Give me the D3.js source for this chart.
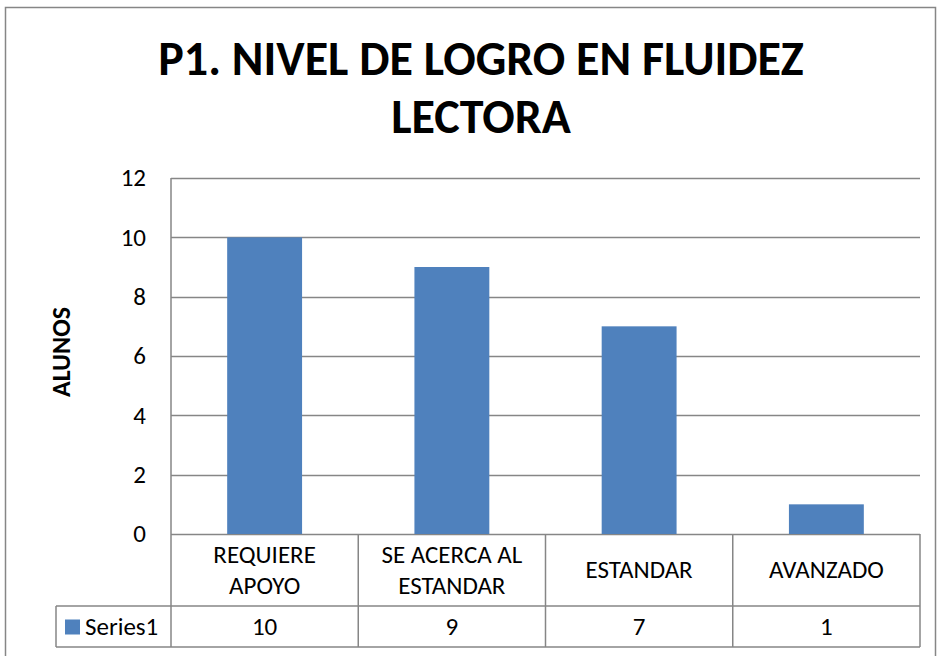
<!DOCTYPE html>
<html>
<head>
<meta charset="utf-8">
<script src="https://cdn.jsdelivr.net/npm/d3@7"></script>
<style>
  body { margin: 0; background: #fff; }
  text { font-family: Carlito, "Noto Sans", sans-serif; }
</style>
</head>
<body>
<div id="wrapper"></div>
<script>
// Data
const categories = [["REQUIERE", "APOYO"], ["SE ACERCA AL", "ESTANDAR"], ["ESTANDAR"], ["AVANZADO"]];
const values = [10, 9, 7, 1];
const seriesName = "Series1";
const yTicks = [0, 2, 4, 6, 8, 10, 12];
const titleLines = ["P1. NIVEL DE LOGRO EN FLUIDEZ", "LECTORA"];
const yLabel = "ALUNOS";

const WIDTH = 937;
const HEIGHT = 656;
const BAR_COLOR = "#4F81BD";
const LINE_COLOR = "#868686";
const FONT_SIZE = 25;

const plot = { left: 171, right: 920, top: 178, bottom: 534 };
const table = { left: 56, catBottom: 606, rowBottom: 647 };

const svg = d3.select("#wrapper")
  .append("svg")
  .attr("width", WIDTH)
  .attr("height", HEIGHT);

// Chart frame
svg.append("rect")
  .attr("x", 5.5).attr("y", 7.5)
  .attr("width", 930).attr("height", 660)
  .attr("fill", "#fff")
  .attr("stroke", LINE_COLOR)
  .attr("stroke-width", 1.5);

// Title
svg.append("text")
  .attr("text-anchor", "middle")
  .attr("font-weight", "bold")
  .attr("font-size", 48)
  .attr("fill", "#000")
  .selectAll("tspan")
  .data(titleLines)
  .join("tspan")
  .attr("x", 481)
  .attr("y", (d, i) => 75 + i * 58)
  .text(d => d);

// Scales
const xScale = d3.scaleBand()
  .domain(d3.range(values.length))
  .range([plot.left, plot.right])
  .paddingInner(0.6)
  .paddingOuter(0.3);

const xBand = d3.scaleBand()
  .domain(d3.range(values.length))
  .range([plot.left, plot.right]);

const yScale = d3.scaleLinear()
  .domain([0, 12])
  .range([plot.bottom, plot.top]);

// Gridlines
svg.append("g")
  .selectAll("line")
  .data(yTicks)
  .join("line")
  .attr("x1", plot.left).attr("x2", plot.right)
  .attr("y1", d => Math.round(yScale(d)) + 0.5)
  .attr("y2", d => Math.round(yScale(d)) + 0.5)
  .attr("stroke", LINE_COLOR)
  .attr("stroke-width", 1.5);

// Y axis line
svg.append("line")
  .attr("x1", plot.left).attr("x2", plot.left)
  .attr("y1", plot.top).attr("y2", plot.bottom)
  .attr("stroke", LINE_COLOR)
  .attr("stroke-width", 1.5);

// Tick labels
svg.append("g")
  .selectAll("text")
  .data(yTicks)
  .join("text")
  .attr("x", 146)
  .attr("y", d => yScale(d))
  .attr("dy", "0.33em")
  .attr("text-anchor", "end")
  .attr("font-size", 25)
  .attr("fill", "#000")
  .text(d => d);

// Y axis title
svg.append("text")
  .attr("transform", `translate(70, 352) rotate(-90)`)
  .attr("text-anchor", "middle")
  .attr("font-weight", "bold")
  .attr("font-size", 26)
  .attr("fill", "#000")
  .text(yLabel);

// Bars
svg.append("g")
  .selectAll("rect")
  .data(values)
  .join("rect")
  .attr("x", (d, i) => xScale(i))
  .attr("width", xScale.bandwidth())
  .attr("y", d => yScale(d))
  .attr("height", d => yScale(0) - yScale(d))
  .attr("fill", BAR_COLOR);

// Data table
const tableG = svg.append("g")
  .attr("stroke", LINE_COLOR)
  .attr("stroke-width", 1.5)
  .attr("fill", "none");

xBand.domain().concat([values.length]).forEach(i => {
  const x = i < values.length ? xBand(i) : plot.right;
  tableG.append("line")
    .attr("x1", x).attr("x2", x)
    .attr("y1", plot.bottom).attr("y2", table.rowBottom);
});
tableG.append("line")
  .attr("x1", table.left).attr("x2", table.left)
  .attr("y1", table.catBottom).attr("y2", table.rowBottom);
tableG.append("line")
  .attr("x1", table.left).attr("x2", plot.right)
  .attr("y1", table.catBottom).attr("y2", table.catBottom);
tableG.append("line")
  .attr("x1", table.left).attr("x2", plot.right)
  .attr("y1", table.rowBottom).attr("y2", table.rowBottom);

// Category labels
svg.append("g")
  .selectAll("text")
  .data(categories)
  .join("text")
  .attr("text-anchor", "middle")
  .attr("font-size", FONT_SIZE)
  .attr("fill", "#000")
  .each(function(lines, i) {
    const cx = xBand(i) + xBand.bandwidth() / 2;
    const mid = (plot.bottom + table.catBottom) / 2;
    const start = mid - (lines.length - 1) * 15.5;
    d3.select(this).selectAll("tspan")
      .data(lines)
      .join("tspan")
      .attr("x", cx)
      .attr("y", (d, j) => start + j * 31)
      .attr("dy", "0.33em")
      .text(d => d);
  });

// Values row
const rowMid = (table.catBottom + table.rowBottom) / 2;
svg.append("g")
  .selectAll("text")
  .data(values)
  .join("text")
  .attr("x", (d, i) => xBand(i) + xBand.bandwidth() / 2)
  .attr("y", rowMid)
  .attr("dy", "0.33em")
  .attr("text-anchor", "middle")
  .attr("font-size", FONT_SIZE)
  .attr("fill", "#000")
  .text(d => d);

// Legend key
svg.append("rect")
  .attr("x", 65).attr("y", rowMid - 7)
  .attr("width", 15).attr("height", 15)
  .attr("fill", BAR_COLOR);
svg.append("text")
  .attr("x", 85)
  .attr("y", rowMid)
  .attr("dy", "0.33em")
  .attr("font-size", FONT_SIZE)
  .attr("fill", "#000")
  .text(seriesName);
</script>
</body>
</html>
